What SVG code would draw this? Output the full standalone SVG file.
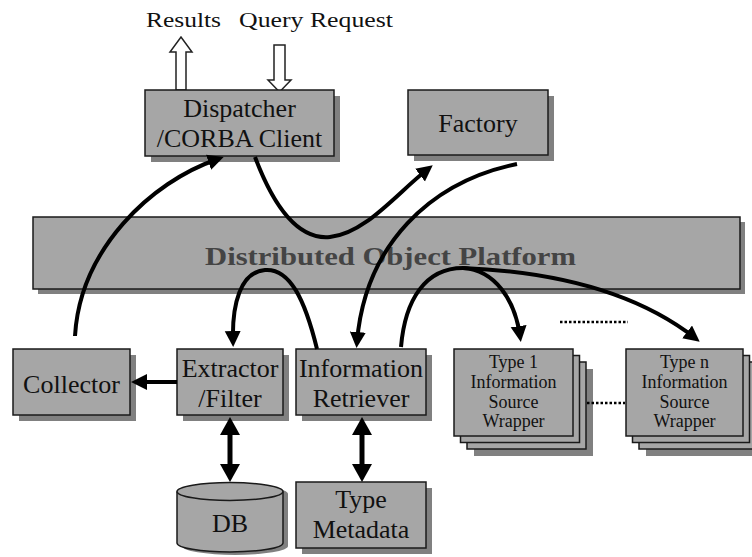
<svg xmlns="http://www.w3.org/2000/svg" width="752" height="557" viewBox="0 0 752 557">
<style>
.box{fill:#a6a6a6;stroke:#1a1a1a;stroke-width:1.5}
.sh{fill:#808080}
.t{font-family:"Liberation Serif","Times New Roman",serif;font-size:26px;fill:#111;text-anchor:middle}
.ts{font-family:"Liberation Serif","Times New Roman",serif;font-size:18px;fill:#111;text-anchor:middle}
.top{font-family:"Liberation Serif","Times New Roman",serif;font-size:21px;fill:#111}
.hollow{fill:#fff;stroke:#222;stroke-width:1.5}
.c{fill:none;stroke:#000;stroke-width:4;stroke-linecap:butt}
.d{fill:none;stroke:#000;stroke-width:5}
.dot{fill:none;stroke:#000;stroke-width:2.5;stroke-dasharray:2.5 2}
</style>
<defs>
<marker id="ah" markerUnits="userSpaceOnUse" markerWidth="18" markerHeight="18" refX="10" refY="8" orient="auto">
<path d="M0,0 L16,8 L0,16 z" fill="#000"/>
</marker>
<marker id="ah2" markerUnits="userSpaceOnUse" markerWidth="20" markerHeight="22" refX="11" refY="10" orient="auto-start-reverse">
<path d="M0,0 L18,10 L0,20 z" fill="#000"/>
</marker>
</defs>

<g id="labels-top">
<text class="top" x="146" y="27" textLength="75" lengthAdjust="spacingAndGlyphs">Results</text>
<text class="top" x="239" y="27" textLength="154" lengthAdjust="spacingAndGlyphs">Query Request</text>
<polygon class="hollow" points="176,90 176,52 170,52 181,37 192,52 186,52 186,90"/>
<polygon class="hollow" points="274,45 285,45 285,80 291,80 279.5,92 268,80 274,80"/>
</g>

<g id="platform">
<rect class="sh" x="38" y="222" width="707" height="72"/>
<rect class="box" x="33" y="217" width="707" height="72"/>
<text x="205" y="265" textLength="371" lengthAdjust="spacingAndGlyphs" style="font-family:'Liberation Serif','Times New Roman',serif;font-size:26px;font-weight:bold;fill:#444">Distributed Object Platform</text>
</g>

<g id="dispatcher">
<rect class="sh" x="151" y="96" width="189" height="66"/>
<rect class="box" x="145" y="90" width="189" height="66"/>
<text class="t" x="239.5" y="117">Dispatcher</text>
<text class="t" x="239.5" y="147">/CORBA Client</text>
</g>

<g id="factory">
<rect class="sh" x="414" y="96" width="140" height="65"/>
<rect class="box" x="408" y="90" width="140" height="65"/>
<text class="t" x="478" y="132">Factory</text>
</g>

<g id="collector">
<rect class="sh" x="19" y="355" width="117" height="66"/>
<rect class="box" x="13" y="349" width="117" height="66"/>
<text class="t" x="71.5" y="393">Collector</text>
</g>

<g id="extractor">
<rect class="sh" x="183" y="355" width="106" height="66"/>
<rect class="box" x="177" y="349" width="106" height="66"/>
<text class="t" x="230" y="377">Extractor</text>
<text class="t" x="230" y="407">/Filter</text>
</g>

<g id="retriever">
<rect class="sh" x="302" y="355" width="130" height="66"/>
<rect class="box" x="296" y="349" width="130" height="66"/>
<text class="t" x="361" y="377">Information</text>
<text class="t" x="361" y="407">Retriever</text>
</g>

<g id="wrapper1">
<rect class="sh" x="474" y="369" width="119" height="87"/>
<rect class="box" x="467" y="362" width="119" height="87"/>
<rect class="box" x="460.5" y="355.5" width="119" height="87"/>
<rect class="box" x="454" y="349" width="119" height="87"/>
<text class="ts" x="513.5" y="368">Type 1</text>
<text class="ts" x="513.5" y="388">Information</text>
<text class="ts" x="513.5" y="408">Source</text>
<text class="ts" x="513.5" y="427">Wrapper</text>
</g>

<g id="wrappern">
<rect class="sh" x="646" y="369" width="117" height="87"/>
<rect class="box" x="639" y="362" width="117" height="87"/>
<rect class="box" x="632.5" y="355.5" width="117" height="87"/>
<rect class="box" x="626" y="349" width="117" height="87"/>
<text class="ts" x="684.5" y="368">Type n</text>
<text class="ts" x="684.5" y="388">Information</text>
<text class="ts" x="684.5" y="408">Source</text>
<text class="ts" x="684.5" y="427">Wrapper</text>
</g>

<g id="db">
<path d="M182,494 L182,546 A53,9 0 0 0 288,546 L288,494 A53,9 0 0 0 182,494 Z" class="sh"/>
<path d="M177,491.5 L177,543 A53,9 0 0 0 283,543 L283,491.5" fill="#a6a6a6" stroke="#1a1a1a" stroke-width="1.5"/>
<ellipse cx="230" cy="491.5" rx="53" ry="9" fill="#a6a6a6" stroke="#1a1a1a" stroke-width="1.5"/>
<text class="t" x="230" y="532">DB</text>
</g>

<g id="metadata">
<rect class="sh" x="302" y="488" width="130" height="66"/>
<rect class="box" x="296" y="482" width="130" height="66"/>
<text class="t" x="361" y="508">Type</text>
<text class="t" x="361" y="538">Metadata</text>
</g>

<g id="connectors">
<path class="c" marker-end="url(#ah)" d="M75,336 C80,250 150,182 218,159"/>
<path class="c" marker-end="url(#ah)" d="M255,157 C275,210 300,240 330,237 C365,234 398,192 428,169"/>
<path class="c" marker-end="url(#ah)" d="M517,164 C430,182 365,245 357,342"/>
<path class="c" marker-end="url(#ah)" d="M317,349 C305,300 290,268 265,270 C240,272 232,305 233,341"/>
<path class="c" d="M401,347 C405,300 425,268 463,268"/>
<path class="c" marker-end="url(#ah)" d="M463,268 C495,270 515,300 520,336"/>
<path class="c" marker-end="url(#ah)" d="M463,268 C560,272 640,295 695,338"/>
<path class="c" marker-end="url(#ah)" d="M177,382 L137,382"/>
<path class="d" marker-start="url(#ah2)" marker-end="url(#ah2)" d="M230,424 L230,475"/>
<path class="d" marker-start="url(#ah2)" marker-end="url(#ah2)" d="M362,424 L362,475"/>
<path class="dot" d="M560,322 L628,322"/>
<path class="dot" d="M587,403 L625,403"/>
</g>
</svg>
